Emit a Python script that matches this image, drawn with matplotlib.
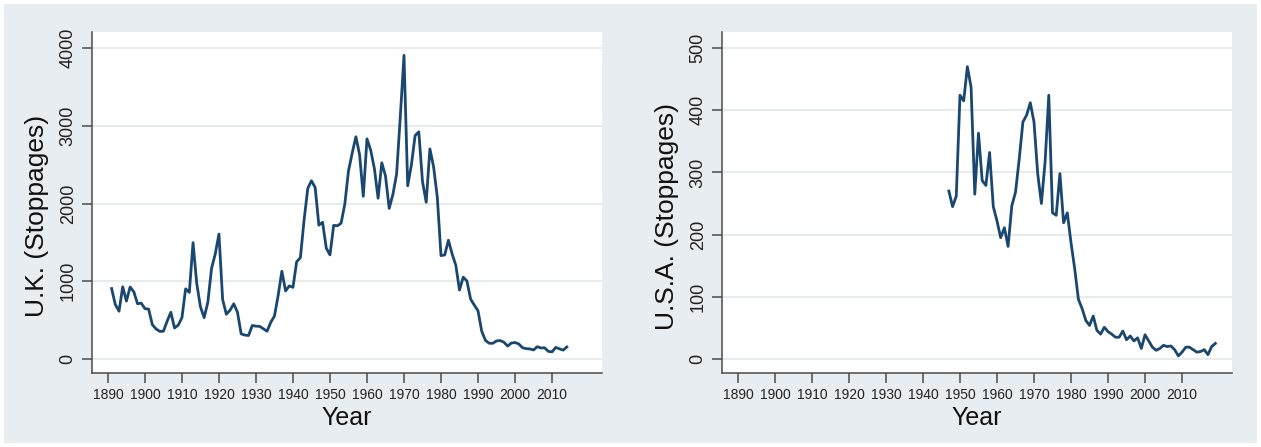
import matplotlib
matplotlib.use('Agg')
import matplotlib.pyplot as plt
from matplotlib.patches import Rectangle

plt.rcParams['font.family'] = ['Liberation Sans', 'DejaVu Sans']

# number of work stoppages per year
uk_years = list(range(1891, 2015))
uk_stoppages = [
    906, 700, 615, 929, 745, 926, 864, 711, 719, 648,
    642, 442, 387, 355, 358, 486, 601, 399, 436, 531,
    903, 857, 1497, 972, 672, 532, 730, 1165, 1352, 1607,
    763, 576, 628, 710, 603, 323, 308, 302, 431, 422,
    420, 389, 357, 471, 553, 818, 1129, 875, 940, 922,
    1251, 1303, 1785, 2194, 2293, 2205, 1721, 1759, 1426, 1339,
    1719, 1714, 1746, 1989, 2419, 2648, 2859, 2629, 2093, 2832,
    2686, 2449, 2068, 2524, 2354, 1937, 2116, 2378, 3116, 3906,
    2228, 2497, 2873, 2922, 2282, 2016, 2703, 2471, 2080, 1330,
    1338, 1528, 1352, 1206, 887, 1053, 1004, 770, 693, 620,
    357, 240, 203, 202, 233, 237, 216, 166, 205, 212,
    194, 146, 133, 130, 116, 158, 142, 144, 98, 92,
    149, 131, 114, 155,
]

us_years = list(range(1947, 2020))
us_stoppages = [
    270, 245, 262, 424, 415, 470, 437, 265, 363, 287,
    279, 332, 245, 222, 195, 211, 181, 246, 268, 321,
    381, 392, 412, 381, 298, 250, 317, 424, 235, 231,
    298, 219, 235, 187, 145, 96, 81, 62, 54, 69,
    46, 40, 51, 44, 40, 35, 35, 45, 31, 37,
    29, 34, 17, 39, 29, 19, 14, 17, 22, 20,
    21, 15, 5, 11, 19, 19, 15, 11, 12, 15,
    7, 20, 25,
]

year_ticks = list(range(1890, 2011, 10))
uk_ticks = [0, 1000, 2000, 3000, 4000]
us_ticks = [0, 100, 200, 300, 400, 500]

LINE = '#1a476f'
BG = '#e8edf1'
GRID = '#e4e9ec'
AXIS = '#4a4a4a'


def draw_panel(ax, years, values, yticks, ylim, ylabel):
    ax.set_facecolor('white')
    for y in yticks:
        ax.axhline(y, color=GRID, lw=1.3, zorder=0)
    ax.plot(years, values, color=LINE, lw=2.0, zorder=2)

    ax.set_xlim(1885.7, 2023.5)
    ax.set_ylim(*ylim)
    ax.set_xticks(year_ticks)
    ax.set_yticks(yticks)

    for side in ['top', 'right']:
        ax.spines[side].set_visible(False)
    for side in ['left', 'bottom']:
        ax.spines[side].set_color(AXIS)
        ax.spines[side].set_linewidth(1.1)

    ax.tick_params(axis='x', length=7, width=1.1, color=AXIS, pad=4,
                   labelsize=10, labelcolor='#222222')
    ax.tick_params(axis='y', length=7, width=1.1, color=AXIS, pad=4,
                   labelsize=13, labelcolor='#222222', labelrotation=90)
    for lbl in ax.get_yticklabels():
        lbl.set_va('center')

    ax.set_xlabel('Year', fontsize=18, color='#111111', va='center')
    ax.xaxis.set_label_coords(0.5, -0.132)
    ax.set_ylabel(ylabel, fontsize=19, color='#111111', va='center')
    ax.yaxis.set_label_coords(-0.108, 0.46)


fig = plt.figure(figsize=(12.61, 4.47), dpi=100, facecolor='white')
fig.patches.append(Rectangle((4 / 1261, 4 / 447), 1253 / 1261, 439 / 447,
                             transform=fig.transFigure, facecolor=BG,
                             edgecolor='none', zorder=-1))

ax1 = fig.add_axes([92 / 1261, 1 - 373 / 447, 510 / 1261, 341 / 447])
ax2 = fig.add_axes([722 / 1261, 1 - 373 / 447, 510 / 1261, 341 / 447])

draw_panel(ax1, uk_years, uk_stoppages, uk_ticks, (-180, 4206), 'U.K. (Stoppages)')
draw_panel(ax2, us_years, us_stoppages, us_ticks, (-22.5, 525.7), 'U.S.A. (Stoppages)')

fig.savefig('out.png', dpi=100, facecolor=fig.get_facecolor())
